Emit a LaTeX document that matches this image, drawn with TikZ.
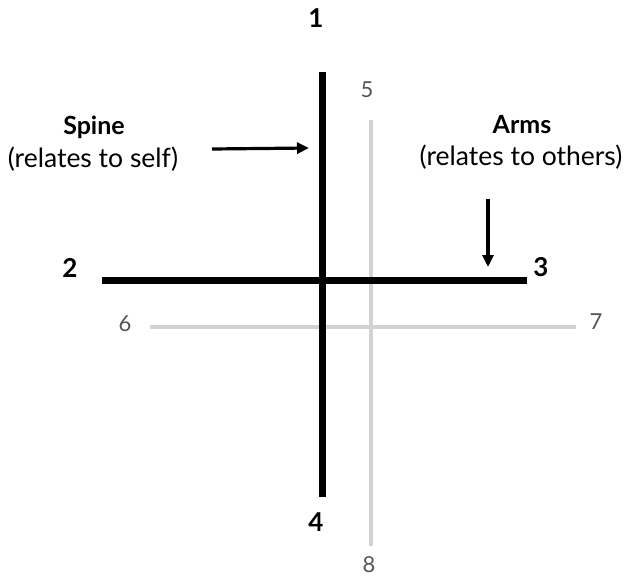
\documentclass[tikz,border=0pt]{standalone}
\usepackage{fontspec}
\setmainfont{Lato}
\usetikzlibrary{arrows.meta}
\begin{document}
\begin{tikzpicture}[x=1pt,y=-1pt,
  blackbar/.style={line width=7pt,black},
  graybar/.style={line width=4pt,color={rgb,255:red,210;green,210;blue,210}},
  pointer/.style={line width=3.2pt,-{Triangle[length=12pt,width=11pt]}},
  bignum/.style={font=\fontsize{26}{30}\selectfont\bfseries,inner sep=0pt},
  smallnum/.style={font=\fontsize{22}{26}\selectfont,text={rgb,255:red,85;green,85;blue,85},inner sep=0pt},
  lbl/.style={font=\fontsize{26.5}{30}\selectfont,inner sep=0pt,align=center},
  boldlbl/.style={font=\fontsize{25}{30}\selectfont\bfseries,inner sep=0pt,align=center}]
\useasboundingbox (0,0) rectangle (624,578);
% coordinates
\coordinate (vt) at (322,72);
\coordinate (vb) at (322,497);
\coordinate (hl) at (102,280);
\coordinate (hr) at (527,280);
\coordinate (gvt) at (371,120);
\coordinate (gvb) at (371,546);
\coordinate (ghl) at (150,327);
\coordinate (ghr) at (576,327);
% gray cross
\draw[graybar] (gvt) -- (gvb);
\draw[graybar] (ghl) -- (ghr);
% black cross
\draw[blackbar] (vt) -- (vb);
\draw[blackbar] (hl) -- (hr);
% numbers
\node[bignum] (n1) at (316,18) {1};
\node[bignum] (n2) at (70,268) {2};
\node[bignum] (n3) at (541,267) {3};
\node[bignum] (n4) at (316,522) {4};
\node[smallnum] (n5) at (367,90) {5};
\node[smallnum] (n6) at (125,324) {6};
\node[smallnum] (n7) at (596,322) {7};
\node[smallnum] (n8) at (369,565) {8};
% labels
\node[boldlbl] (spine) at (94,127) {Spine};
\node[lbl] (spinesub) at (93,159) {(relates to self)};
\node[boldlbl] (arms) at (522,125) {Arms};
\node[lbl] (armssub) at (521,157) {(relates to others)};
% arrows
\coordinate (a1s) at (212,149);
\coordinate (a1e) at (309,148);
\coordinate (a2s) at (488,199);
\coordinate (a2e) at (488,267);
\draw[pointer] (a1s) -- (a1e);
\draw[pointer] (a2s) -- (a2e);
\end{tikzpicture}
\end{document}
